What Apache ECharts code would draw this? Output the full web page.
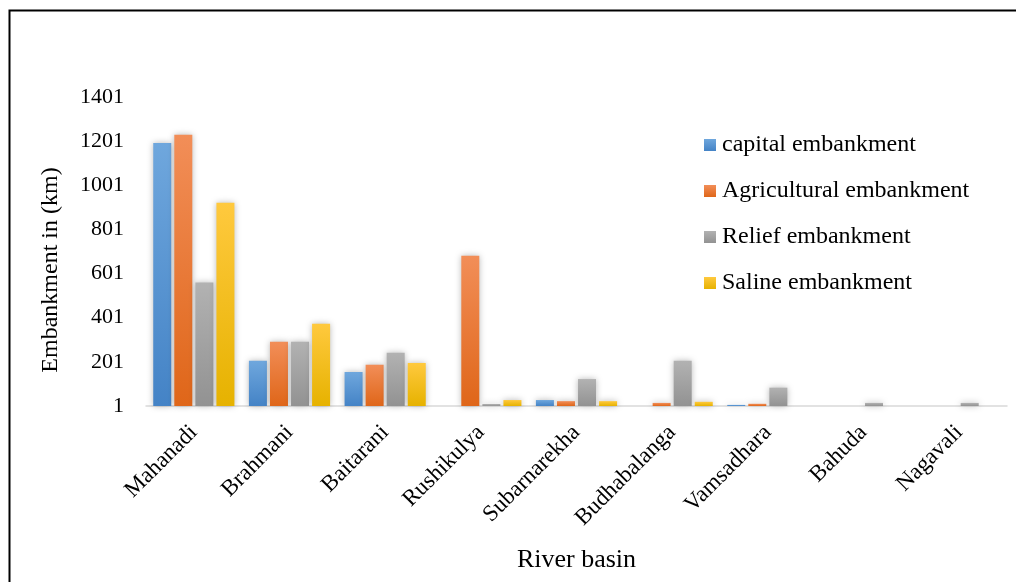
<!DOCTYPE html>
<html>
<head>
<meta charset="utf-8">
<script src="https://cdn.jsdelivr.net/npm/echarts@6/dist/echarts.min.js"></script>
<style>
  html, body { margin: 0; padding: 0; background: #ffffff; }
  #chart { width: 1016px; height: 582px; }
</style>
</head>
<body>
<div id="chart"></div>
<script>
// River basins of Odisha and embankment lengths (km) by type
const basins = ['Mahanadi', 'Brahmani', 'Baitarani', 'Rushikulya', 'Subarnarekha',
                'Budhabalanga', 'Vamsadhara', 'Bahuda', 'Nagavali'];
const capitalEmb      = [1193, 206, 155, null, 28, null, 6, null, null];
const agriculturalEmb = [1230, 292, 188, 682, 23, 15, 11, null, null];
const reliefEmb       = [560, 292, 242, 10, 123, 206, 84, 15, 15];
const salineEmb       = [922, 374, 196, 28, 23, 20, null, null, null];
const yTicks = [1, 201, 401, 601, 801, 1001, 1201, 1401];

const seriesNames = ['capital embankment', 'Agricultural embankment', 'Relief embankment', 'Saline embankment'];
const FONT = "'Liberation Serif', 'Times New Roman', serif";

function grad(top, bottom) {
  return new echarts.graphic.LinearGradient(0, 0, 0, 1, [
    { offset: 0, color: top },
    { offset: 1, color: bottom }
  ]);
}

const palette = [
  grad('#6fa7dd', '#4483c6'),
  grad('#f28e58', '#df6619'),
  grad('#b2b2b2', '#929292'),
  grad('#ffc93e', '#e6b200')
];

const seriesData = [capitalEmb, agriculturalEmb, reliefEmb, salineEmb];

const chart = echarts.init(document.getElementById('chart'), null, { renderer: 'canvas' });

chart.setOption({
  backgroundColor: '#ffffff',
  animation: false,
  textStyle: { fontFamily: FONT, color: '#000000' },
  grid: { left: 146, right: 9, top: 97, bottom: 176, containLabel: false },
  legend: {
    orient: 'vertical',
    left: 704,
    top: 133,
    padding: 0,
    itemWidth: 12,
    itemHeight: 12,
    itemGap: 22,
    icon: 'rect',
    textStyle: { fontFamily: FONT, fontSize: 24, color: '#000000', lineHeight: 24, padding: [0, 0, 0, 1] },
    data: seriesNames
  },
  xAxis: {
    type: 'category',
    data: basins,
    name: 'River basin',
    nameLocation: 'middle',
    nameGap: 141,
    nameTextStyle: { fontFamily: FONT, fontSize: 26, color: '#000000' },
    axisLine: { show: true, lineStyle: { color: '#d9d9d9', width: 1.5 } },
    axisTick: { show: false },
    axisLabel: {
      rotate: 45,
      margin: 23,
      interval: 0,
      fontFamily: FONT,
      fontSize: 23,
      color: '#000000'
    },
    splitLine: { show: false }
  },
  yAxis: {
    type: 'value',
    min: 1,
    max: 1401,
    name: 'Embankment in (km)',
    nameLocation: 'middle',
    nameGap: 83,
    nameTextStyle: { fontFamily: FONT, fontSize: 24, color: '#000000', padding: [0, 37, 0, 0] },
    axisLine: { show: false },
    axisTick: { show: false },
    splitLine: { show: false },
    axisLabel: {
      customValues: yTicks,
      formatter: (v) => String(v),
      margin: 22,
      fontFamily: FONT,
      fontSize: 22,
      color: '#000000'
    }
  },
  series: seriesData.map((vals, i) => ({
    name: seriesNames[i],
    type: 'bar',
    data: vals,
    barWidth: 18,
    barGap: '17%',
    itemStyle: {
      color: palette[i],
      shadowBlur: 6,
      shadowColor: 'rgba(0,0,0,0.28)',
      shadowOffsetX: 0,
      shadowOffsetY: 0
    }
  })),
  graphic: [{
    type: 'rect',
    shape: { x: 9.5, y: 10.5, width: 1200, height: 800 },
    style: { fill: 'none', stroke: '#000000', lineWidth: 2 },
    silent: true
  }]
});
</script>
</body>
</html>
